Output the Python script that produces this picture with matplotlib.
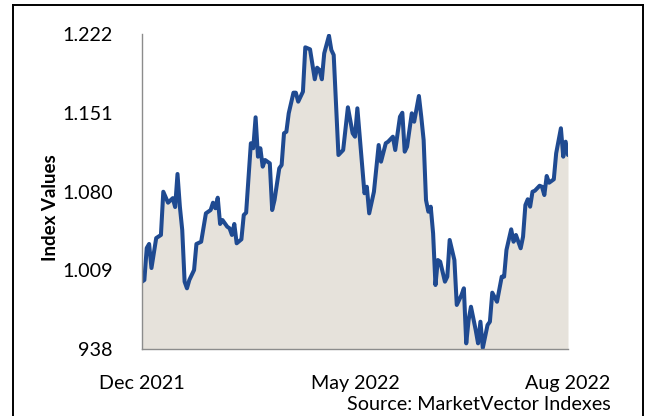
import matplotlib
matplotlib.use("Agg")
import matplotlib.pyplot as plt
from matplotlib.lines import Line2D

# ---- data ----
day = [0, 1, 2, 3, 4, 6, 8, 9, 11, 13, 14, 15, 16, 17, 18, 19, 20, 22, 23, 25,
       27, 29, 30, 31, 32, 33, 34, 36, 37, 38, 39, 40, 42, 43, 44, 46, 47, 48, 49, 50,
       51, 52, 54, 55, 56, 58, 59, 60, 61, 62, 64, 65, 66, 68, 69, 71, 73, 74, 75, 76,
       77, 79, 80, 81, 83, 85, 87, 89, 90, 91, 94, 95, 96, 98, 100, 101, 103, 104, 106, 107,
       109, 110, 111, 112, 114, 115, 117, 118, 119, 120, 121, 122, 123, 124, 125, 126, 128, 129, 130, 132,
       133, 135, 136, 137, 138, 139, 141, 142, 143, 144, 146, 147, 148, 150, 152, 153, 154, 156, 157, 158,
       160, 161, 162, 163, 164, 165, 166, 168, 169, 170, 171, 172, 174, 175, 177, 178, 179, 180]
index_values = [998.7, 1000.2, 1029.0, 1032.7, 1011.0, 1038.0, 1040.8, 1079.8, 1069.9, 1074.0,
                1066.0, 1095.8, 1066.3, 1045.3, 998.7, 992.7, 1000.2, 1009.2, 1032.7, 1034.7,
                1060.3, 1063.3, 1069.9, 1064.9, 1074.4, 1050.7, 1054.3, 1048.3, 1046.8, 1040.8,
                1050.7, 1033.3, 1036.9, 1058.8, 1060.9, 1123.5, 1119.0, 1146.9, 1111.4, 1119.0,
                1102.4, 1108.4, 1105.4, 1063.3, 1072.3, 1100.9, 1103.9, 1132.5, 1133.9, 1150.5,
                1169.1, 1169.1, 1161.0, 1170.0, 1210.0, 1208.2, 1181.2, 1191.6, 1189.5, 1181.2,
                1204.6, 1220.5, 1207.6, 1203.1, 1112.9, 1117.4, 1155.9, 1132.5, 1129.4, 1155.0,
                1078.4, 1084.3, 1060.3, 1079.8, 1121.9, 1106.9, 1123.5, 1124.9, 1129.4, 1117.4,
                1147.4, 1151.0, 1115.9, 1120.4, 1150.5, 1142.9, 1166.1, 1147.4, 1126.4, 1072.3,
                1061.8, 1066.3, 1042.3, 995.7, 1018.2, 1016.7, 998.7, 1003.2, 1036.3, 1018.2,
                977.7, 986.7, 992.7, 943.1, 964.1, 976.1, 955.1, 943.1, 962.6, 939.0,
                959.6, 962.6, 988.8, 980.6, 1003.2, 1003.2, 1027.3, 1045.9, 1034.7, 1040.8,
                1028.8, 1039.2, 1067.8, 1073.0, 1066.3, 1079.8, 1080.7, 1085.2, 1084.3, 1076.8,
                1094.0, 1087.9, 1091.0, 1114.4, 1137.0, 1111.4, 1124.9, 1112.9]

y_ticks = [938, 1009, 1080, 1151, 1222]
y_tick_labels = ["938", "1.009", "1.080", "1.151", "1.222"]
x_ticks = [0, 90, 180]
x_tick_labels = ["Dec 2021", "May 2022", "Aug 2022"]
y_label = "Index Values"
source = "Source: MarketVector Indexes"

# ---- styling ----
plt.rcParams['font.family'] = ['Lato', 'DejaVu Sans']
W, H = 650, 416
fig = plt.figure(figsize=(W / 100, H / 100), dpi=100)
ax = fig.add_axes([142 / W, (H - 349) / H, (568 - 142) / W, (349 - 34) / H])

line_col = "#1F4A91"
fill_col = "#E6E2DB"
ax.fill_between(day, index_values, y_ticks[0], color=fill_col, lw=0, zorder=1)
ax.plot(day, index_values, color=line_col, lw=2.9, solid_joinstyle='round',
        solid_capstyle='round', zorder=2)

ax.set_xlim(day[0], day[-1])
ax.set_ylim(y_ticks[0], y_ticks[-1])
ax.set_yticks(y_ticks)
ax.set_yticklabels(y_tick_labels)
ax.set_xticks(x_ticks)
ax.set_xticklabels(x_tick_labels)
ax.tick_params(axis='both', length=0, labelsize=14.2, colors='black')
ax.tick_params(axis='y', pad=21)
ax.tick_params(axis='x', pad=19)
for s in ['top', 'right']:
    ax.spines[s].set_visible(False)
for s in ['left', 'bottom']:
    ax.spines[s].set_color('#8C8C8C')
    ax.spines[s].set_linewidth(1.0)
ax.spines['left'].set_zorder(3)

fig.text(50 / W, 1 - 208 / H, y_label, rotation=90, ha='center', va='center',
         fontsize=13.5, fontweight='bold')
fig.text(611 / W, 1 - 404 / H, source, ha='right', va='center', fontsize=14.2)

# outer border (open at the bottom)
bx0, bx1, by = 12.5 / W, 643 / W, 1 - 5 / H
for xs, ys in [([bx0, bx0], [0, by]), ([bx0, bx1], [by, by]), ([bx1, bx1], [by, 0])]:
    fig.add_artist(Line2D(xs, ys, transform=fig.transFigure, color='black', lw=1.4))

fig.savefig("out.png", dpi=100)
